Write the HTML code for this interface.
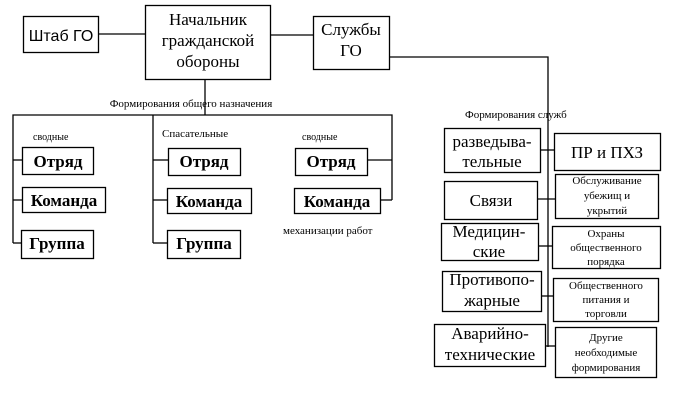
<!DOCTYPE html>
<html><head><meta charset="utf-8"><style>
html,body{margin:0;padding:0;background:#fff;}
svg{display:block;}
text{font-family:"Liberation Serif","DejaVu Serif",serif;fill:#000;}
.s{font-family:"Liberation Sans",sans-serif;}
</style></head><body>
<svg width="675" height="401" viewBox="0 0 675 401" xmlns="http://www.w3.org/2000/svg">
<g fill="none" stroke="#000" stroke-width="1.3">
<!-- top -->
<rect x="23.5" y="16.5" width="75" height="36"/>
<rect x="145.5" y="5.5" width="125" height="74"/>
<rect x="313.5" y="16.5" width="76" height="53"/>
<line x1="98" y1="34" x2="145" y2="34"/>
<line x1="270" y1="35" x2="313" y2="35"/>
<polyline points="389,57 548,57 548,347"/>
<line x1="205" y1="79" x2="205" y2="115"/>
<polyline points="13,243 13,115 392,115 392,200"/>
<line x1="153" y1="115" x2="153" y2="243"/>
<!-- left group -->
<line x1="13" y1="160" x2="22" y2="160"/>
<line x1="13" y1="200" x2="22" y2="200"/>
<line x1="13" y1="243" x2="22" y2="243"/>
<rect x="22.5" y="147.5" width="71" height="27"/>
<rect x="22.5" y="187.5" width="83" height="25"/>
<rect x="21.5" y="230.5" width="72" height="28"/>
<!-- middle -->
<line x1="153" y1="160" x2="168" y2="160"/>
<line x1="153" y1="200" x2="167" y2="200"/>
<line x1="153" y1="243" x2="167" y2="243"/>
<rect x="168.5" y="148.5" width="72" height="27"/>
<rect x="167.5" y="188.5" width="84" height="25"/>
<rect x="167.5" y="230.5" width="73" height="28"/>
<!-- right group -->
<line x1="367" y1="160" x2="392" y2="160"/>
<line x1="380" y1="200" x2="392" y2="200"/>
<rect x="295.5" y="148.5" width="72" height="27"/>
<rect x="294.5" y="188.5" width="86" height="25"/>
<!-- services -->
<rect x="444.5" y="128.5" width="96" height="44"/>
<rect x="444.5" y="181.5" width="93" height="38"/>
<rect x="441.5" y="223.5" width="97" height="37"/>
<rect x="442.5" y="271.5" width="99" height="40"/>
<rect x="434.5" y="324.5" width="111" height="42"/>
<rect x="554.5" y="133.5" width="106" height="37"/>
<rect x="555.5" y="174.5" width="103" height="44"/>
<rect x="552.5" y="226.5" width="108" height="42"/>
<rect x="553.5" y="278.5" width="105" height="43"/>
<rect x="555.5" y="327.5" width="101" height="50"/>
<line x1="540" y1="150" x2="554" y2="150"/>
<line x1="537" y1="199" x2="555" y2="199"/>
<line x1="538" y1="246" x2="552" y2="246"/>
<line x1="541" y1="296" x2="553" y2="296"/>
<line x1="545" y1="346" x2="555" y2="346"/>
</g>
<text class="s" x="61" y="41" font-size="16" text-anchor="middle">Штаб ГО</text>
<text x="208" y="25" font-size="17" text-anchor="middle">Начальник</text>
<text x="208" y="46" font-size="17" text-anchor="middle">гражданской</text>
<text x="208" y="67" font-size="17" text-anchor="middle">обороны</text>
<text x="351" y="35" font-size="17" text-anchor="middle">Службы</text>
<text x="351" y="56" font-size="17" text-anchor="middle">ГО</text>
<text x="191" y="107" font-size="11" text-anchor="middle">Формирования общего назначения</text>
<text x="33" y="140" font-size="10">сводные</text>
<text x="162" y="137" font-size="11">Спасательные</text>
<text x="302" y="140" font-size="10">сводные</text>
<text x="283" y="234" font-size="11">механизации работ</text>
<text x="465" y="118" font-size="11">Формирования служб</text>
<g font-size="17" font-weight="bold" text-anchor="middle">
<text x="58" y="167">Отряд</text>
<text x="64" y="206">Команда</text>
<text x="57" y="249">Группа</text>
<text x="204" y="167">Отряд</text>
<text x="209" y="207">Команда</text>
<text x="204" y="249">Группа</text>
<text x="331" y="167">Отряд</text>
<text x="337" y="207">Команда</text>
</g>
<g font-size="17" text-anchor="middle">
<text x="492" y="147">разведыва-</text>
<text x="492" y="167">тельные</text>
<text x="491" y="206">Связи</text>
<text x="489" y="237">Медицин-</text>
<text x="489" y="257">ские</text>
<text x="492" y="285">Противопо-</text>
<text x="492" y="306">жарные</text>
<text x="490" y="339">Аварийно-</text>
<text x="490" y="360">технические</text>
<text x="607" y="158">ПР и ПХЗ</text>
</g>
<g font-size="11" text-anchor="middle">
<text x="607" y="184">Обслуживание</text>
<text x="607" y="199">убежищ и</text>
<text x="607" y="214">укрытий</text>
<text x="606" y="237">Охраны</text>
<text x="606" y="251">общественного</text>
<text x="606" y="265">порядка</text>
<text x="606" y="289">Общественного</text>
<text x="606" y="303">питания и</text>
<text x="606" y="317">торговли</text>
<text x="606" y="341">Другие</text>
<text x="606" y="356">необходимые</text>
<text x="606" y="371">формирования</text>
</g>
</svg>
</body></html>
